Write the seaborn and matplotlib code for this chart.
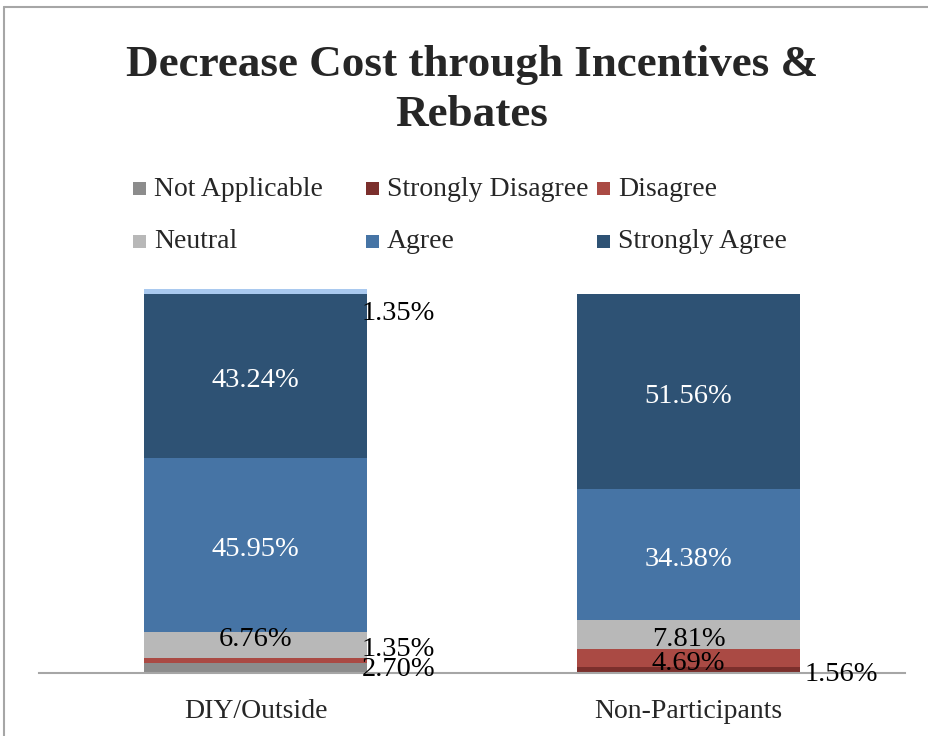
import matplotlib
matplotlib.use("Agg")
import matplotlib.pyplot as plt
from matplotlib.patches import Rectangle
import pandas as pd
import seaborn as sns

# Survey response shares (%) by group
groups = ["DIY/Outside", "Non-Participants"]
series = ["Not Applicable", "Strongly Disagree", "Disagree", "Neutral",
          "Agree", "Strongly Agree", "Other"]
not_applicable = [2.70, 0.0]
strongly_disagree = [0.0, 1.56]
disagree = [1.35, 4.69]
neutral = [6.76, 7.81]
agree = [45.95, 34.38]
strongly_agree = [43.24, 51.56]
other = [1.35, 0.0]

values = {
    "Not Applicable": not_applicable,
    "Strongly Disagree": strongly_disagree,
    "Disagree": disagree,
    "Neutral": neutral,
    "Agree": agree,
    "Strongly Agree": strongly_agree,
    "Other": other,
}
colors = {
    "Not Applicable": "#8c8c8c",
    "Strongly Disagree": "#7b2f2c",
    "Disagree": "#aa4a44",
    "Neutral": "#b8b8b8",
    "Agree": "#4674a5",
    "Strongly Agree": "#2e5274",
    "Other": "#a9c9ef",
}
text_colors = {"Agree": "white", "Strongly Agree": "white"}

sns.set_theme(style="white")
plt.rcParams["font.family"] = ["Liberation Serif", "DejaVu Serif"]

YMAX = 102.0
px_per_unit = 379 / 100
fig = plt.figure(figsize=(9.29, 7.36), dpi=100)
ax = fig.add_axes([39 / 929, 1 - 673 / 736, (905 - 39) / 929,
                   YMAX * px_per_unit / 736])

bar_w = 0.515
bottoms = [0.0, 0.0]
# offsets (pixels) for labels of thin segments, placed beside the bar
side_labels = {
    ("Other", 0): (-5, -22),
    ("Disagree", 0): (-5, 11),
    ("Not Applicable", 0): (-5, -2),
    ("Strongly Disagree", 1): (5, -4),
}
# small vertical nudges (pixels) for labels inside the bars
inside_nudge = {("Neutral", 0): 5}
for name in series:
    vals = values[name]
    df = pd.DataFrame({"group": groups, "value": vals})
    sns.barplot(data=df, x="group", y="value", order=groups, color=colors[name],
                width=bar_w, bottom=bottoms, saturation=1, ax=ax,
                edgecolor="none", linewidth=0)
    for i, v in enumerate(vals):
        if v <= 0:
            continue
        yc = bottoms[i] + v / 2
        label = f"{v:.2f}%"
        if (name, i) in side_labels:
            dx, dy = side_labels[(name, i)]
            ax.annotate(label, xy=(i + bar_w / 2, yc), xytext=(dx, dy),
                        textcoords="offset pixels", ha="left", va="center",
                        fontsize=20.5, color="black", annotation_clip=False)
        else:
            ax.annotate(label, xy=(i, yc), xytext=(0, inside_nudge.get((name, i), -5)),
                        textcoords="offset pixels", ha="center", va="center",
                        fontsize=20.5, color=text_colors.get(name, "black"))
    bottoms = [b + v for b, v in zip(bottoms, vals)]

ax.set_xlim(-0.5, 1.5)
ax.set_ylim(0, YMAX)
for side in ["top", "right", "left"]:
    ax.spines[side].set_visible(False)
ax.spines["bottom"].set_color("#a6a6a6")
ax.spines["bottom"].set_linewidth(1.5)
ax.set_yticks([])
ax.set_xlabel("")
ax.set_ylabel("")
ax.tick_params(axis="x", length=0, pad=19, labelsize=20)

# Title
fig.text(472 / 929, 1 - 90 / 736, "Decrease Cost through Incentives &\nRebates",
         ha="center", va="center", fontsize=32.5, fontweight="bold",
         linespacing=1.3)

# Legend laid out in two rows of three
legend_items = [
    ("Not Applicable", 133, 188), ("Strongly Disagree", 366, 188), ("Disagree", 597, 188),
    ("Neutral", 133, 241), ("Agree", 366, 241), ("Strongly Agree", 597, 241),
]
sq = 13
for name, x, y in legend_items:
    fig.patches.append(Rectangle((x / 929, 1 - (y + sq / 2) / 736), sq / 929, sq / 736,
                                 transform=fig.transFigure, facecolor=colors[name],
                                 edgecolor="none"))
    fig.text((x + sq + 8) / 929, 1 - (y + 1) / 736, name, ha="left", va="center",
             fontsize=20)

# Chart frame
fig.add_artist(plt.Line2D([4 / 929, 4 / 929], [0, 1 - 7 / 736],
                          transform=fig.transFigure, color="#a6a6a6", lw=1.5))
fig.add_artist(plt.Line2D([4 / 929, 1], [1 - 7 / 736, 1 - 7 / 736],
                          transform=fig.transFigure, color="#a6a6a6", lw=1.5))

fig.savefig("out.png", dpi=100)
